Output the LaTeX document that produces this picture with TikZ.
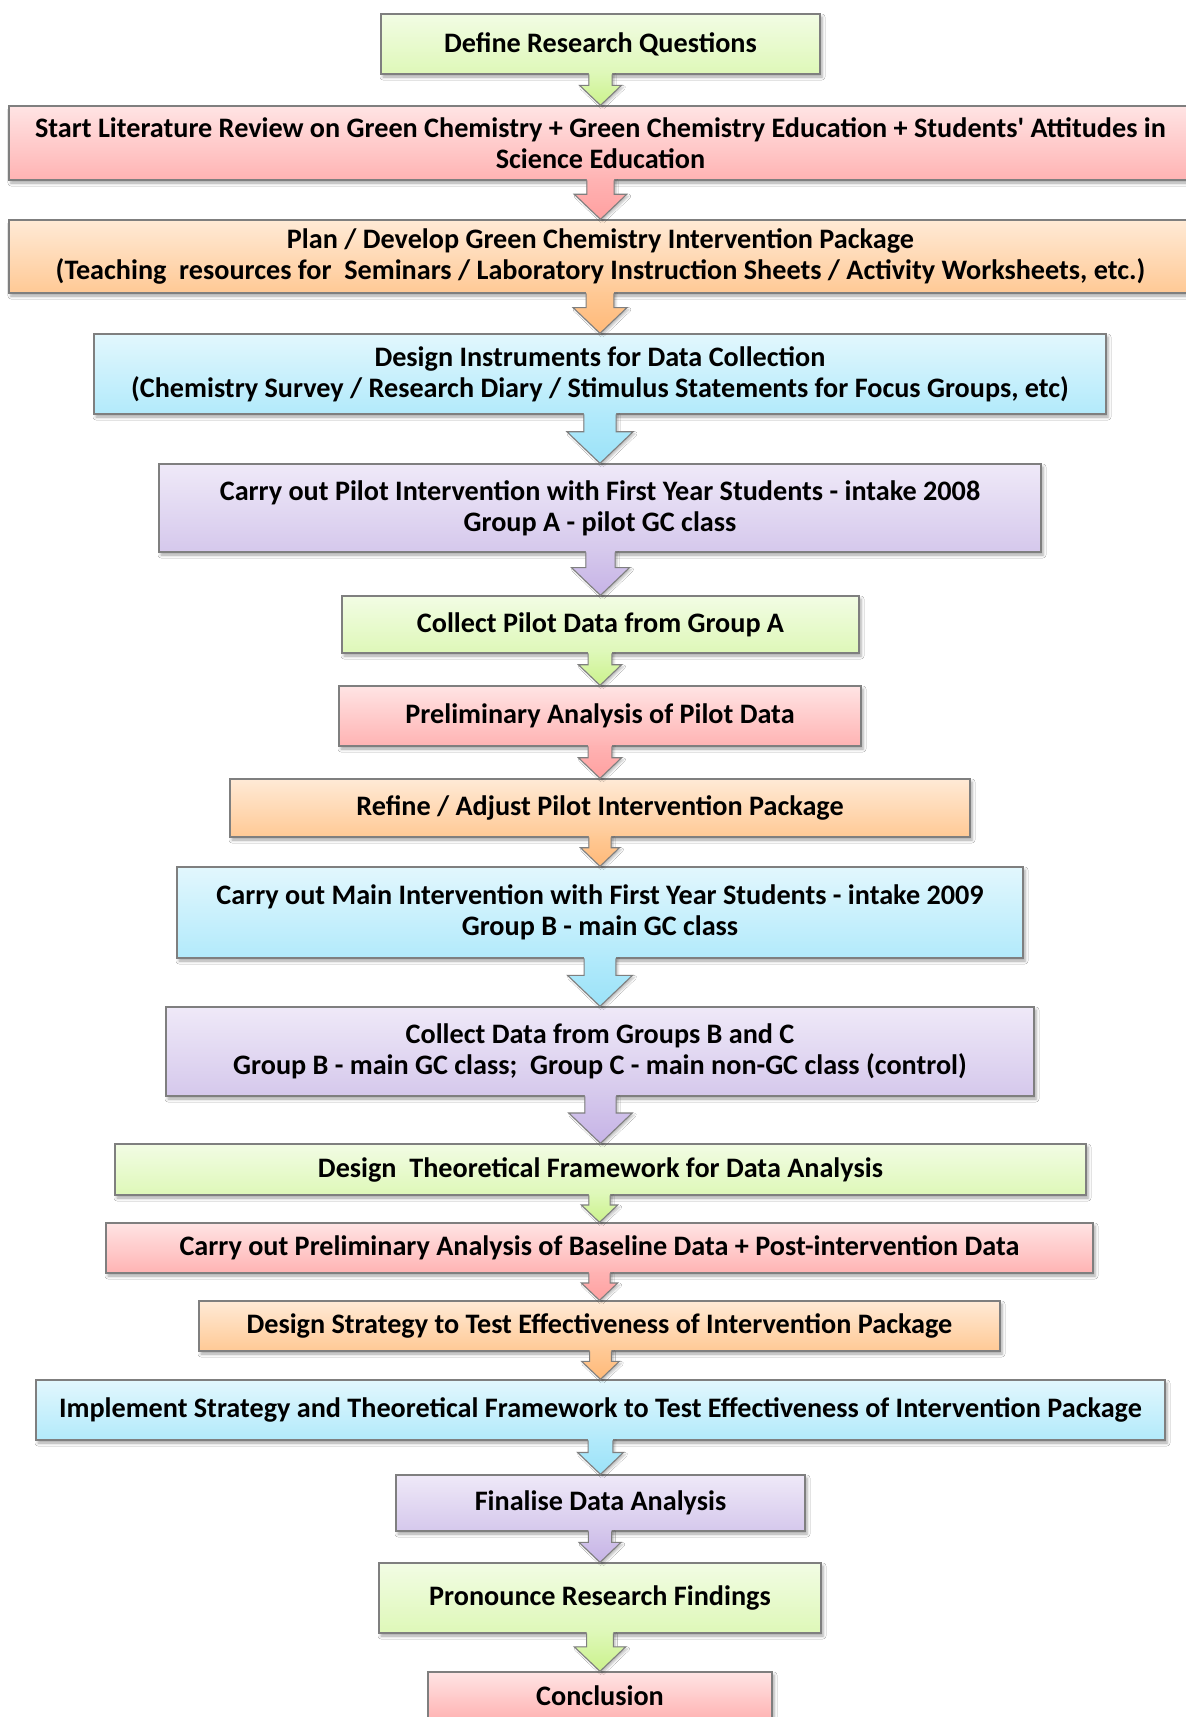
\documentclass[tikz,border=0pt]{standalone}
\usepackage{fontspec}
\setmainfont{Carlito}[Ligatures=TeXOff]
\usetikzlibrary{calc,shadows.blur}
\definecolor{boxline}{HTML}{7F7F7F}
\definecolor{gT}{HTML}{F2FCE4}\definecolor{gB}{HTML}{DEF8B8}\definecolor{gA}{HTML}{CBF28C}
\definecolor{pT}{HTML}{FFE4E4}\definecolor{pB}{HTML}{FFB3B3}\definecolor{pA}{HTML}{FFA0A0}
\definecolor{oT}{HTML}{FFEAD6}\definecolor{oB}{HTML}{FFC995}\definecolor{oA}{HTML}{FFB978}
\definecolor{bT}{HTML}{E2F7FD}\definecolor{bB}{HTML}{B2EAFB}\definecolor{bA}{HTML}{9BE2F8}
\definecolor{uT}{HTML}{EFE9F8}\definecolor{uB}{HTML}{D5C8EC}\definecolor{uA}{HTML}{C6B3E6}
\tikzset{
  flowbox/.style={draw=boxline, line width=1.3pt, inner sep=0pt, align=center,
    font=\bfseries\fontsize{28.2}{31}\selectfont,
    blur shadow={shadow xshift=2pt, shadow yshift=-3pt, shadow blur radius=3pt, shadow opacity=35}},
  gbox/.style={flowbox, top color=gT, bottom color=gB},
  pbox/.style={flowbox, top color=pT, bottom color=pB},
  obox/.style={flowbox, top color=oT, bottom color=oB},
  bbox/.style={flowbox, top color=bT, bottom color=bB},
  ubox/.style={flowbox, top color=uT, bottom color=uB},
  arrowline/.style={draw=boxline, line width=1.1pt, line join=miter},
}
% #1 from node, #2 to node, #3 colour prefix
\newcommand\flowarrow[3]{%
  \pgfpointanchor{#1}{south}\pgfgetlastxy{\flax}{\flay}%
  \pgfpointanchor{#2}{north}\pgfgetlastxy{\flbx}{\flby}%
  \pgfmathsetmacro\flgap{\flay-\flby}%
  \pgfmathsetmacro\flhh{0.68*\flgap}%
  \pgfmathsetmacro\flhl{0.65*\flgap}%
  \pgfmathsetmacro\flsh{0.25*\flgap+4}%
  \pgfmathsetmacro\fltop{\flgap+1.6}%
  \pgfmathsetmacro\fltopd{\flgap+0.4}%
  \path[top color=#3B, bottom color=#3A,
    blur shadow={shadow xshift=2pt, shadow yshift=-2pt, shadow blur radius=2pt, shadow opacity=25}]
    ($(#2.north)+(-\flsh,\fltop)$) -- ($(#2.north)+(-\flsh,\flhl)$) -- ($(#2.north)+(-\flhh,\flhl)$)
    -- (#2.north) -- ($(#2.north)+(\flhh,\flhl)$) -- ($(#2.north)+(\flsh,\flhl)$)
    -- ($(#2.north)+(\flsh,\fltop)$) -- cycle;
  \draw[arrowline]
    ($(#2.north)+(-\flsh,\fltopd)$) -- ($(#2.north)+(-\flsh,\flhl)$) -- ($(#2.north)+(-\flhh,\flhl)$)
    -- (#2.north) -- ($(#2.north)+(\flhh,\flhl)$) -- ($(#2.north)+(\flsh,\flhl)$)
    -- ($(#2.north)+(\flsh,\fltopd)$);
}
\begin{document}
\begin{tikzpicture}[x=1pt,y=1pt]
\useasboundingbox (0,0) rectangle (1186,-1717);
\fill[white] (0,0) rectangle (1186,-1717);

\node[gbox, minimum width=439, minimum height=60] (n1) at (600.5,-44) {Define Research Questions};
\node[pbox, minimum width=1183, minimum height=74] (n2) at (600.5,-143) {Start Literature Review on Green Chemistry + Green Chemistry Education + Students' Attitudes in\\Science Education};
\node[obox, minimum width=1183, minimum height=73] (n3) at (600.5,-256.5) {Plan / Develop Green Chemistry Intervention Package\\(Teaching\ \ resources for\ \ Seminars / Laboratory Instruction Sheets / Activity Worksheets, etc.)};
\node[bbox, minimum width=1012, minimum height=80] (n4) at (600,-374) {Design Instruments for Data Collection\\(Chemistry Survey / Research Diary / Stimulus Statements for Focus Groups, etc)};
\node[ubox, minimum width=882, minimum height=88] (n5) at (600,-508) {Carry out Pilot Intervention with First Year Students - intake 2008\\Group A - pilot GC class};
\node[gbox, minimum width=517, minimum height=57] (n6) at (600.5,-624.5) {Collect Pilot Data from Group A};
\node[pbox, minimum width=522, minimum height=60] (n7) at (600,-716) {Preliminary Analysis of Pilot Data};
\node[obox, minimum width=740, minimum height=58] (n8) at (600,-808) {Refine / Adjust Pilot Intervention Package};
\node[bbox, minimum width=846, minimum height=91] (n9) at (600,-912.5) {Carry out Main Intervention with First Year Students - intake 2009\\Group B - main GC class};
\node[ubox, minimum width=868, minimum height=89] (n10) at (600,-1051.5) {Collect Data from Groups B and C\\Group B - main GC class;\ \ Group C - main non-GC class (control)};
\node[gbox, minimum width=971, minimum height=51] (n11) at (600.5,-1169.5) {Design\ \ Theoretical Framework for Data Analysis};
\node[pbox, minimum width=987, minimum height=50] (n12) at (599.5,-1248) {Carry out Preliminary Analysis of Baseline Data + Post-intervention Data};
\node[obox, minimum width=801, minimum height=50] (n13) at (599.5,-1326) {Design Strategy to Test Effectiveness of Intervention Package};
\node[bbox, minimum width=1129, minimum height=60] (n14) at (600.5,-1410) {Implement Strategy and Theoretical Framework to Test Effectiveness of Intervention Package};
\node[ubox, minimum width=409, minimum height=56] (n15) at (600.5,-1503) {Finalise Data Analysis};
\node[gbox, minimum width=442, minimum height=70] (n16) at (600,-1598) {Pronounce Research Findings};
\node[pbox, minimum width=344, minimum height=48] (n17) at (600,-1696) {Conclusion};

\flowarrow{n1}{n2}{g}
\flowarrow{n2}{n3}{p}
\flowarrow{n3}{n4}{o}
\flowarrow{n4}{n5}{b}
\flowarrow{n5}{n6}{u}
\flowarrow{n6}{n7}{g}
\flowarrow{n7}{n8}{p}
\flowarrow{n8}{n9}{o}
\flowarrow{n9}{n10}{b}
\flowarrow{n10}{n11}{u}
\flowarrow{n11}{n12}{g}
\flowarrow{n12}{n13}{p}
\flowarrow{n13}{n14}{o}
\flowarrow{n14}{n15}{b}
\flowarrow{n15}{n16}{u}
\flowarrow{n16}{n17}{g}
\end{tikzpicture}
\end{document}
